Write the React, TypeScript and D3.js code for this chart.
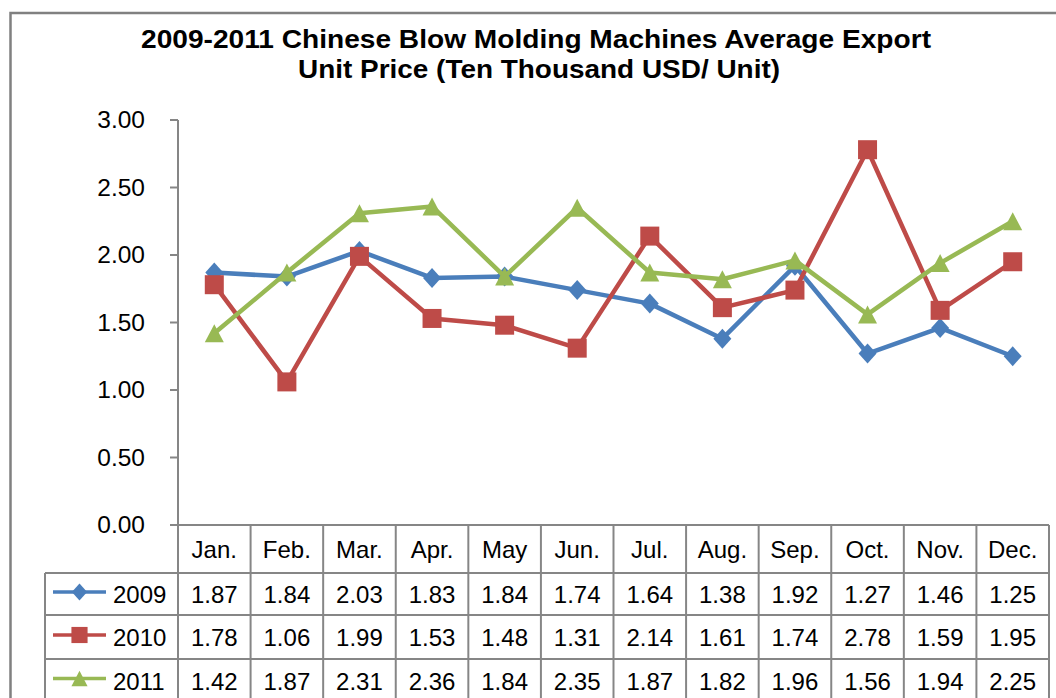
import React from 'react';
import * as d3 from 'd3';

const months = ['Jan.', 'Feb.', 'Mar.', 'Apr.', 'May', 'Jun.', 'Jul.', 'Aug.', 'Sep.', 'Oct.', 'Nov.', 'Dec.'];
const years = ['2009', '2010', '2011'];
const values2009 = [1.87, 1.84, 2.03, 1.83, 1.84, 1.74, 1.64, 1.38, 1.92, 1.27, 1.46, 1.25];
const values2010 = [1.78, 1.06, 1.99, 1.53, 1.48, 1.31, 2.14, 1.61, 1.74, 2.78, 1.59, 1.95];
const values2011 = [1.42, 1.87, 2.31, 2.36, 1.84, 2.35, 1.87, 1.82, 1.96, 1.56, 1.94, 2.25];
const yTicks = [0, 0.5, 1, 1.5, 2, 2.5, 3];
const colors = ['#4A7EBB', '#BE4B48', '#98B954'];
const markers = ['diamond', 'square', 'triangle'];

const seriesList = [values2009, values2010, values2011];

const width = 1056;
const height = 698;
const gridColor = '#868686';
const font = '"Liberation Sans", Arial, sans-serif';

const plotLeft = 178;
const plotRight = 1049;
const plotTop = 120;
const plotBottom = 525;
const rowTops = [525, 573, 615, 659, 702];
const legendLeft = 45;

const Marker: React.FC<{ kind: string; x: number; y: number; color: string; scale?: number }> = ({ kind, x, y, color, scale = 1 }) => {
  if (kind === 'diamond') {
    const rx = 9 * scale, ry = 10 * scale;
    return <path d={`M${x},${y - ry}L${x + rx},${y}L${x},${y + ry}L${x - rx},${y}Z`} fill={color} />;
  }
  if (kind === 'square') {
    const s = 9.5 * scale;
    return <rect x={x - s} y={y - s} width={2 * s} height={2 * s} fill={color} />;
  }
  const w = 9.5 * scale, h = 9 * scale;
  return <path d={`M${x},${y - h}L${x + w},${y + h}L${x - w},${y + h}Z`} fill={color} />;
};

export default function App() {
  const x = d3.scaleBand<string>().domain(months).range([plotLeft, plotRight]);
  const y = d3.scaleLinear().domain([0, 3]).range([plotBottom, plotTop]);
  const cx = (m: string) => (x(m) ?? 0) + x.bandwidth() / 2;

  const line = d3.line<number>()
    .x((_, i) => cx(months[i]))
    .y(d => y(d));

  return (
    <svg width={width} height={height} style={{ position: 'absolute', left: 0, top: 0, background: '#fff' }} fontFamily={font}>
      {/* chart frame */}
      <rect x={10.5} y={13} width={1100} height={800} fill="#fff" stroke="#808080" strokeWidth={2.5} />

      <text x={536} y={48} textAnchor="middle" fontSize={25} fontWeight="bold" textLength={790} lengthAdjust="spacingAndGlyphs">
        2009-2011 Chinese Blow Molding Machines Average Export
      </text>
      <text x={539} y={78} textAnchor="middle" fontSize={25} fontWeight="bold" textLength={482} lengthAdjust="spacingAndGlyphs">
        Unit Price (Ten Thousand USD/ Unit)
      </text>

      {/* y axis */}
      <line x1={plotLeft} x2={plotLeft} y1={plotTop} y2={height + 10} stroke={gridColor} strokeWidth={2} />
      {yTicks.map(t => (
        <g key={t}>
          <line x1={170} x2={plotLeft} y1={y(t)} y2={y(t)} stroke={gridColor} strokeWidth={2} />
          <text x={145} y={y(t) + 8} textAnchor="end" fontSize={24.5}>{t.toFixed(2)}</text>
        </g>
      ))}

      {/* data table grid */}
      <line x1={170} x2={plotRight} y1={rowTops[0]} y2={rowTops[0]} stroke={gridColor} strokeWidth={2} />
      {rowTops.slice(1).map(r => (
        <line key={r} x1={legendLeft} x2={plotRight} y1={r} y2={r} stroke={gridColor} strokeWidth={2} />
      ))}
      <line x1={legendLeft} x2={legendLeft} y1={rowTops[1]} y2={height + 10} stroke={gridColor} strokeWidth={2} />
      {months.map(m => (
        <line key={m} x1={(x(m) ?? 0) + x.bandwidth()} x2={(x(m) ?? 0) + x.bandwidth()} y1={rowTops[0]} y2={height + 10} stroke={gridColor} strokeWidth={2} />
      ))}

      {/* month header */}
      {months.map(m => (
        <text key={m} x={cx(m)} y={rowTops[0] + 33} textAnchor="middle" fontSize={24}>{m}</text>
      ))}

      {/* table rows */}
      {seriesList.map((vals, si) => {
        const top = rowTops[si + 1];
        const mid = (top + rowTops[si + 2]) / 2;
        return (
          <g key={years[si]}>
            <line x1={53} x2={106} y1={mid - 2} y2={mid - 2} stroke={colors[si]} strokeWidth={3.5} />
            <Marker kind={markers[si]} x={79.5} y={mid - 2} color={colors[si]} scale={0.85} />
            <text x={113} y={mid + 9} fontSize={24}>{years[si]}</text>
            {vals.map((v, i) => (
              <text key={i} x={cx(months[i])} y={mid + 9} textAnchor="middle" fontSize={24}>{v.toFixed(2)}</text>
            ))}
          </g>
        );
      })}

      {/* series */}
      {seriesList.map((vals, si) => (
        <g key={years[si]}>
          <path d={line(vals) ?? ''} fill="none" stroke={colors[si]} strokeWidth={4.5} strokeLinejoin="round" />
          {vals.map((v, i) => (
            <Marker key={i} kind={markers[si]} x={cx(months[i])} y={y(v)} color={colors[si]} />
          ))}
        </g>
      ))}
    </svg>
  );
}
